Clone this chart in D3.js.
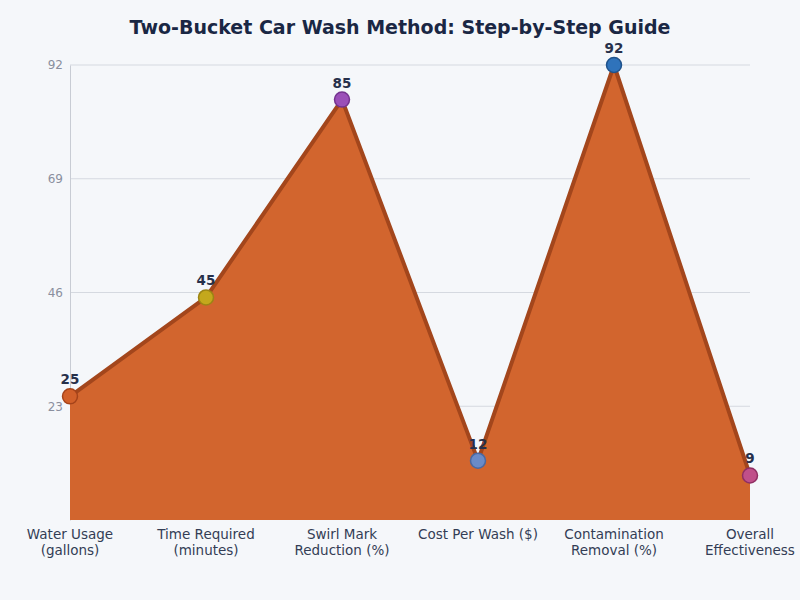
<!DOCTYPE html>
<html>
<head>
<meta charset="utf-8">
<script src="https://cdn.jsdelivr.net/npm/d3@7"></script>
<style>
  body { margin: 0; background: #f5f7fa; }
  svg { font-family: "DejaVu Sans", sans-serif; }
</style>
</head>
<body>
<script>
// Categories (two-line labels) and values
var categories = [
  ["Water Usage", "(gallons)"],
  ["Time Required", "(minutes)"],
  ["Swirl Mark", "Reduction (%)"],
  ["Cost Per Wash ($)"],
  ["Contamination", "Removal (%)"],
  ["Overall", "Effectiveness"]
];
var values = [25, 45, 85, 12, 92, 9];
var pointColors = ["#d2602a", "#c4a81c", "#9b4fb8", "#6a8bc8", "#2f73bb", "#c0508a"];
var pointStrokes = ["#a5431a", "#9c8414", "#74338f", "#4b68a0", "#1f528c", "#8f2f63"];
var yTicks = [23, 46, 69, 92];

var w = 800;
var h = 600;
var plotLeft = 70, plotRight = 750, plotTop = 65, plotBottom = 520;

var svg = d3.select("body")
    .append("svg")
    .attr("width", w)
    .attr("height", h);

svg.append("rect")
    .attr("width", w)
    .attr("height", h)
    .attr("fill", "#f5f7fa");

// Title
svg.append("text")
    .attr("x", 400)
    .attr("y", 34)
    .attr("text-anchor", "middle")
    .style("font-size", "19px")
    .style("font-weight", "bold")
    .style("fill", "#1a2744")
    .text("Two-Bucket Car Wash Method: Step-by-Step Guide");

var xScale = d3.scalePoint()
    .domain(d3.range(values.length))
    .range([plotLeft, plotRight]);

var yScale = d3.scaleLinear()
    .domain([0, 92])
    .range([plotBottom, plotTop]);

// Gridlines
svg.append("g")
    .selectAll("line")
    .data(yTicks)
    .enter()
    .append("line")
    .attr("x1", plotLeft)
    .attr("x2", plotRight)
    .attr("y1", function(d) { return yScale(d); })
    .attr("y2", function(d) { return yScale(d); })
    .attr("stroke", "#d5d9e0")
    .attr("stroke-width", 1);

// Y axis
var yAxis = svg.append("g")
    .attr("transform", "translate(" + plotLeft + ",0)")
    .call(d3.axisLeft(yScale).tickValues(yTicks).tickSize(0).tickPadding(7));
yAxis.select(".domain").attr("stroke", "#c8ccd4");
yAxis.selectAll("text")
    .style("font-size", "12px")
    .style("fill", "#8a8f9e")
    .style("font-family", "DejaVu Sans, sans-serif");

// Area
var area = d3.area()
    .x(function(d, i) { return xScale(i); })
    .y0(yScale(0))
    .y1(function(d) { return yScale(d); });

svg.append("path")
    .datum(values)
    .attr("d", area)
    .attr("fill", "#d2652e");

// Line
var line = d3.line()
    .x(function(d, i) { return xScale(i); })
    .y(function(d) { return yScale(d); });

svg.append("path")
    .datum(values)
    .attr("d", line)
    .attr("fill", "none")
    .attr("stroke", "#a3461c")
    .attr("stroke-width", 4)
    .attr("stroke-linejoin", "round");

// Points
svg.selectAll("circle.pt")
    .data(values)
    .enter()
    .append("circle")
    .attr("class", "pt")
    .attr("cx", function(d, i) { return xScale(i); })
    .attr("cy", function(d) { return yScale(d); })
    .attr("r", 7.5)
    .attr("fill", function(d, i) { return pointColors[i]; })
    .attr("stroke", function(d, i) { return pointStrokes[i]; })
    .attr("stroke-width", 1.5);

// Value labels
svg.selectAll("text.val")
    .data(values)
    .enter()
    .append("text")
    .attr("class", "val")
    .attr("x", function(d, i) { return xScale(i); })
    .attr("y", function(d) { return yScale(d) - 12; })
    .attr("text-anchor", "middle")
    .style("font-size", "13.5px")
    .style("font-weight", "bold")
    .style("fill", "#27304a")
    .text(function(d) { return d; });

// X labels
var xl = svg.selectAll("text.xl")
    .data(categories)
    .enter()
    .append("text")
    .attr("class", "xl")
    .attr("x", function(d, i) { return xScale(i); })
    .attr("y", 539)
    .attr("text-anchor", "middle")
    .style("font-size", "13.5px")
    .style("fill", "#333d55");

xl.selectAll("tspan")
    .data(function(d) { return d; })
    .enter()
    .append("tspan")
    .attr("x", function() { return d3.select(this.parentNode).attr("x"); })
    .attr("dy", function(d, i) { return i === 0 ? 0 : 15.5; })
    .text(function(d) { return d; });
</script>
</body>
</html>
